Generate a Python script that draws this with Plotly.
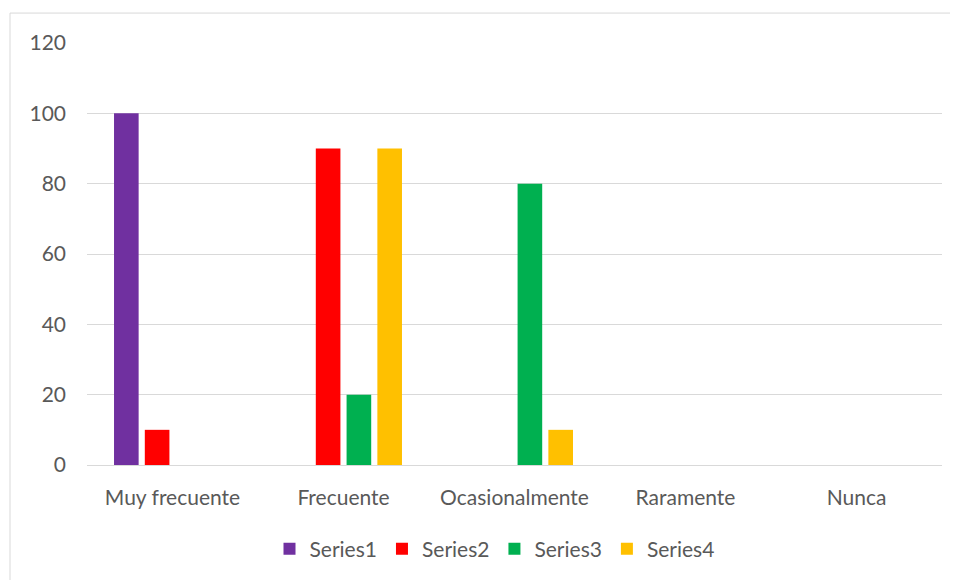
import plotly.graph_objects as go

categories = ["Muy frecuente", "Frecuente", "Ocasionalmente", "Raramente", "Nunca"]
series_names = ["Series1", "Series2", "Series3", "Series4"]
series1 = [100, 0, 0, 0, 0]
series2 = [10, 90, 0, 0, 0]
series3 = [0, 20, 80, 0, 0]
series4 = [0, 90, 10, 0, 0]
colors = ["#7030A0", "#FF0000", "#00B050", "#FFC000"]
y_ticks = [0, 20, 40, 60, 80, 100, 120]

# page has an 8px body margin; figure coords = page coords - 8
W, H = 950, 572
L, R, T, B = 79, 16, 35, 114

fig = go.Figure()
for name, vals, c in zip(series_names, [series1, series2, series3, series4], colors):
    fig.add_trace(go.Bar(name=name, x=categories, y=vals, marker=dict(color=c, line=dict(width=0))))

font = "Lato, 'Open Sans', sans-serif"
fs = 21
pw = W - L - R
ph = H - T - B
fig.update_layout(
    width=W, height=H,
    margin=dict(l=L, r=R, t=T, b=B),
    paper_bgcolor="white", plot_bgcolor="white",
    barmode="group", bargap=0.28, bargroupgap=0.2,
    font=dict(family=font, size=fs, color="#595959"),
    showlegend=True,
    legend=dict(orientation="h", x=0.5 - 20 / pw, xanchor="center", y=-(541 - (T + ph)) / ph, yanchor="middle",
                font=dict(size=fs, color="#595959"), itemwidth=30, tracegroupgap=0),
    xaxis=dict(showgrid=False, showline=False, ticks="", ticklabelstandoff=18,
               tickfont=dict(size=fs, color="#595959")),
    yaxis=dict(range=[0, 120], tickvals=y_ticks, showgrid=True, gridcolor="#D9D9D9", gridwidth=1,
               zeroline=True, zerolinecolor="#D9D9D9", zerolinewidth=1, showline=False, ticks="",
               ticklabelstandoff=20, tickfont=dict(size=fs, color="#595959")),
    shapes=[dict(type="rect", xref="paper", yref="paper",
                 x0=(2 - L) / pw, x1=(W + 5 - L) / pw,
                 y0=(H - (H + 5) - B) / ph, y1=(H - 5 - B) / ph,
                 line=dict(color="#D9D9D9", width=1), fillcolor="rgba(0,0,0,0)", layer="below")],
)
fig.write_html("out.html")
